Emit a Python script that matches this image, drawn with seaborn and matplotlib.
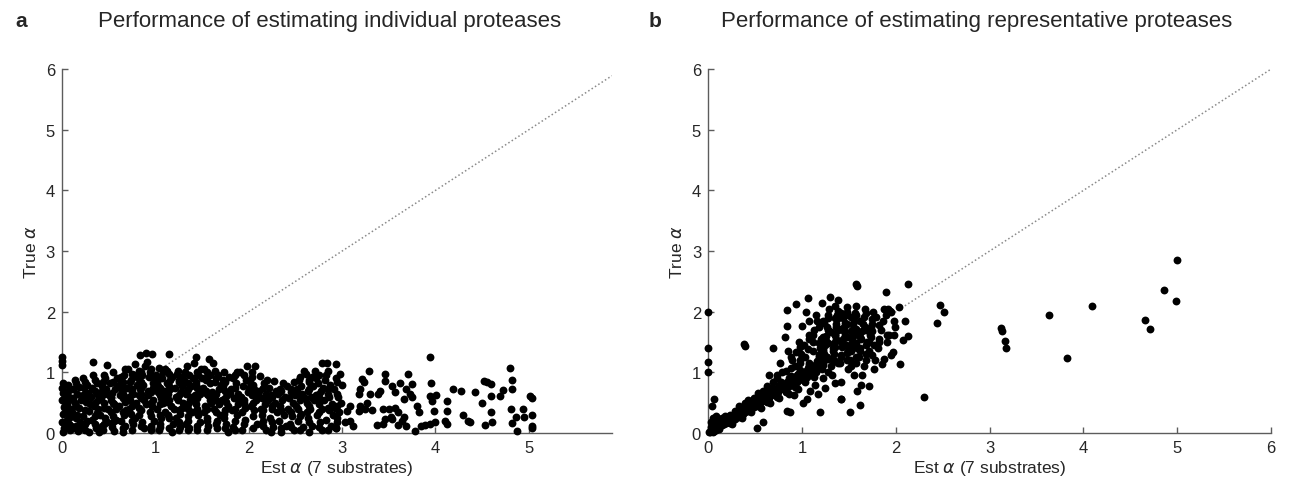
import matplotlib
matplotlib.use("Agg")
import matplotlib.pyplot as plt
import seaborn as sns
import pandas as pd

# panel a: individual proteases (grouped by x band)
est_a = [
    0.00, 0.00, 0.00, 0.01, 0.00, 0.01, 0.00, 0.02, 0.01, 0.00, 0.02, 0.01,
    0.04, 0.05, 0.06, 0.07, 0.08, 0.09, 0.05, 0.07, 0.10, 0.04, 0.06, 0.09, 0.08, 0.10,
    0.11, 0.12, 0.13, 0.14, 0.15, 0.16, 0.17, 0.18, 0.19, 0.12, 0.14, 0.16, 0.18, 0.20,
    0.21, 0.22, 0.23, 0.24, 0.25, 0.26, 0.27, 0.28, 0.29, 0.22, 0.25, 0.27, 0.29, 0.30,
    0.31, 0.32, 0.33, 0.34, 0.35, 0.36, 0.37, 0.38, 0.39, 0.33, 0.35, 0.37, 0.39, 0.40, 0.32,
    0.41, 0.42, 0.43, 0.44, 0.45, 0.46, 0.47, 0.48, 0.49, 0.42, 0.44, 0.46, 0.48, 0.50, 0.43,
    0.51, 0.52, 0.53, 0.54, 0.55, 0.56, 0.57, 0.58, 0.59, 0.52, 0.54, 0.56, 0.58, 0.60, 0.55,
    0.61, 0.62, 0.63, 0.64, 0.65, 0.66, 0.67, 0.68, 0.69, 0.62, 0.64, 0.66, 0.68, 0.70, 0.65, 0.63,
    0.71, 0.72, 0.73, 0.74, 0.75, 0.76, 0.77, 0.78, 0.79, 0.72, 0.74, 0.76, 0.78, 0.80, 0.75, 0.73,
    0.81, 0.82, 0.83, 0.84, 0.85, 0.86, 0.87, 0.88, 0.89, 0.82, 0.84, 0.86, 0.88, 0.90, 0.85, 0.83,
    0.90, 0.91, 0.92, 0.93, 0.94, 0.95, 0.96, 0.97, 0.98, 0.99, 0.92, 0.94, 0.96, 0.98, 1.00, 0.95,
    1.01, 1.02, 1.03, 1.04, 1.05, 1.06, 1.07, 1.08, 1.09, 1.02, 1.04, 1.06, 1.08, 1.10, 1.05, 1.03,
    1.10, 1.11, 1.12, 1.13, 1.14, 1.15, 1.16, 1.17, 1.18, 1.19, 1.12, 1.14, 1.16, 1.18, 1.20,
    1.21, 1.22, 1.23, 1.24, 1.25, 1.26, 1.27, 1.28, 1.29, 1.22, 1.24, 1.26, 1.28, 1.30, 1.25,
    1.31, 1.32, 1.33, 1.34, 1.35, 1.36, 1.37, 1.38, 1.39, 1.32, 1.34, 1.36, 1.38, 1.40, 1.35, 1.33,
    1.41, 1.42, 1.43, 1.44, 1.45, 1.46, 1.47, 1.48, 1.49, 1.42, 1.44, 1.46, 1.48, 1.50, 1.45, 1.43,
    1.51, 1.52, 1.53, 1.54, 1.55, 1.56, 1.57, 1.58, 1.59, 1.52, 1.54, 1.56, 1.58, 1.60, 1.55,
    1.61, 1.62, 1.63, 1.64, 1.65, 1.66, 1.67, 1.68, 1.69, 1.62, 1.64, 1.66, 1.68, 1.70,
    1.71, 1.72, 1.73, 1.74, 1.75, 1.76, 1.77, 1.78, 1.79, 1.72, 1.74, 1.76, 1.78, 1.80,
    1.81, 1.82, 1.83, 1.84, 1.85, 1.86, 1.87, 1.88, 1.89, 1.83, 1.85, 1.87, 1.90,
    1.91, 1.92, 1.93, 1.94, 1.95, 1.96, 1.97, 1.98, 1.99, 1.93, 1.96, 2.00,
    2.01, 2.02, 2.03, 2.04, 2.05, 2.06, 2.07, 2.08, 2.09, 2.03, 2.06, 2.10,
    2.11, 2.12, 2.13, 2.14, 2.15, 2.16, 2.17, 2.18, 2.19, 2.14, 2.20,
    2.21, 2.22, 2.23, 2.24, 2.25, 2.26, 2.27, 2.28, 2.29, 2.24, 2.30,
    2.31, 2.32, 2.33, 2.34, 2.35, 2.36, 2.37, 2.38, 2.39, 2.40,
    2.41, 2.42, 2.43, 2.44, 2.45, 2.46, 2.47, 2.48, 2.49, 2.50,
    2.51, 2.52, 2.53, 2.54, 2.55, 2.56, 2.57, 2.58, 2.59, 2.53, 2.56, 2.60,
    2.61, 2.62, 2.63, 2.64, 2.65, 2.66, 2.67, 2.68, 2.69, 2.62, 2.65, 2.68, 2.70,
    2.71, 2.72, 2.73, 2.74, 2.75, 2.76, 2.77, 2.78, 2.79, 2.72, 2.75, 2.78, 2.80,
    2.81, 2.82, 2.83, 2.84, 2.85, 2.86, 2.87, 2.88, 2.89, 2.83, 2.86, 2.90,
    2.91, 2.92, 2.93, 2.94, 2.95, 2.96, 2.97, 2.98, 2.99, 2.94, 3.00,
    # second pass through the dense block
    0.05, 0.05, 0.15, 0.15, 0.15, 0.25, 0.25, 0.25, 0.35, 0.35, 0.35,
    0.45, 0.45, 0.45, 0.45, 0.55, 0.55, 0.55, 0.65, 0.65, 0.65, 0.65,
    0.75, 0.75, 0.75, 0.75, 0.85, 0.85, 0.85, 0.85, 0.85, 0.95, 0.95, 0.95, 0.95, 0.95,
    1.05, 1.05, 1.05, 1.05, 1.05, 1.15, 1.15, 1.15, 1.15, 1.15, 1.25, 1.25, 1.25, 1.25,
    1.35, 1.35, 1.35, 1.35, 1.35, 1.45, 1.45, 1.45, 1.45, 1.45, 1.55, 1.55, 1.55, 1.55, 1.55,
    1.65, 1.65, 1.65, 1.65, 1.75, 1.75, 1.75, 1.75, 1.85, 1.85, 1.85, 1.95, 1.95, 1.95,
    2.05, 2.05, 2.05, 2.15, 2.15, 2.15, 2.25, 2.25, 2.25, 2.35, 2.35, 2.35, 2.45, 2.45, 2.45,
    2.55, 2.55, 2.55, 2.55, 2.65, 2.65, 2.65, 2.65, 2.75, 2.75, 2.75, 2.75, 2.75,
    2.85, 2.85, 2.85, 2.85, 2.95, 2.95, 2.95, 2.95,
    # sparse tail
    3.29, 3.21, 3.23, 3.46, 3.46, 3.71, 3.75, 3.94, 3.95, 3.62, 3.53, 3.57,
    3.41, 3.39, 3.30, 3.19, 3.18, 3.27, 3.69, 3.73, 3.75, 3.66, 3.94, 4.01,
    3.96, 4.12, 4.19, 4.27, 4.42, 4.52, 4.55, 4.50, 3.19, 3.25, 3.18, 3.32,
    3.44, 3.50, 3.57, 3.60, 3.53, 3.46, 3.37, 3.44, 3.52, 3.66, 3.64, 3.80,
    3.82, 3.69, 3.60, 3.78, 3.84, 3.89, 3.94, 4.00, 3.98, 4.12, 4.10, 4.12,
    4.30, 4.35, 3.09, 3.05, 3.03, 3.09, 3.12, 2.94,
    4.80, 4.82, 4.82, 4.59, 4.72, 4.69, 4.60, 5.01, 5.03, 4.81, 4.94, 4.59,
    4.86, 4.95, 5.03, 4.61, 4.53, 4.82, 5.03, 5.03, 4.87, 4.37,
]
true_a = [
    1.25, 1.18, 1.12, 0.83, 0.74, 0.66, 0.55, 0.43, 0.31, 0.19, 0.08, 0.02,
    0.62, 0.48, 0.33, 0.15, 0.71, 0.05, 0.22, 0.55, 0.40, 0.10, 0.80, 0.27, 0.60, 0.12,
    0.35, 0.72, 0.08, 0.50, 0.25, 0.64, 0.03, 0.42, 0.18, 0.58, 0.88, 0.30, 0.76, 0.55,
    0.10, 0.62, 0.28, 0.74, 0.05, 0.52, 0.20, 0.66, 0.36, 0.91, 0.15, 0.80, 0.02, 0.48,
    0.60, 0.22, 1.17, 0.45, 0.70, 0.08, 0.82, 0.33, 0.55, 0.95, 0.15, 0.65, 0.40, 0.02, 0.75,
    0.30, 0.68, 0.12, 0.85, 0.50, 0.25, 0.72, 1.12, 0.40, 0.58, 0.05, 0.90, 0.18, 0.62, 0.78,
    0.82, 0.35, 0.60, 0.10, 1.00, 0.48, 0.72, 0.22, 0.90, 0.55, 0.66, 0.03, 0.40, 0.78, 0.28,
    0.45, 0.88, 0.20, 0.70, 0.58, 0.95, 0.12, 1.05, 0.38, 0.62, 0.80, 0.30, 0.52, 0.74, 0.02, 0.92,
    1.05, 0.60, 0.85, 0.32, 0.72, 0.15, 0.95, 1.14, 0.50, 0.40, 0.88, 0.65, 0.25, 0.80, 0.05, 0.55,
    0.90, 0.42, 1.02, 1.28, 0.65, 0.18, 0.80, 0.55, 1.10, 0.30, 0.72, 0.95, 0.08, 0.48, 0.85, 0.62,
    1.32, 1.17, 0.70, 0.92, 0.35, 1.05, 1.30, 0.55, 0.82, 0.20, 0.62, 1.00, 0.45, 0.75, 0.88, 0.12,
    0.95, 0.40, 0.78, 1.08, 0.62, 0.25, 0.90, 0.50, 0.70, 0.85, 0.05, 0.58, 1.00, 0.35, 0.15, 0.68,
    1.05, 0.60, 0.82, 1.03, 0.30, 1.30, 0.72, 0.45, 0.92, 0.15, 0.52, 0.65, 0.88, 0.02, 0.40,
    0.75, 0.25, 0.98, 0.55, 0.85, 0.10, 0.68, 0.42, 0.92, 0.60, 1.02, 0.32, 0.78, 0.50, 0.05,
    0.88, 0.45, 0.65, 1.11, 0.20, 0.95, 0.55, 0.78, 0.35, 1.00, 0.70, 0.08, 0.60, 0.90, 0.40, 0.15,
    1.16, 0.62, 0.85, 1.25, 0.40, 0.95, 0.72, 0.18, 1.05, 0.52, 0.80, 0.30, 0.65, 0.90, 0.05, 0.48,
    0.75, 1.05, 0.45, 0.88, 0.25, 0.62, 1.22, 0.55, 0.95, 0.35, 0.70, 0.12, 0.82, 0.50, 1.00,
    0.68, 1.16, 0.40, 0.85, 0.55, 0.20, 0.95, 0.72, 0.30, 0.60, 1.02, 0.08, 0.48, 0.80,
    0.55, 0.88, 1.00, 0.32, 0.70, 0.15, 0.62, 0.45, 0.92, 0.78, 0.25, 0.52, 0.02, 0.66,
    0.72, 0.38, 0.90, 0.58, 0.20, 0.82, 1.00, 0.48, 0.65, 0.10, 0.95, 0.30, 0.55,
    1.00, 0.60, 0.35, 0.78, 0.50, 0.22, 0.88, 1.11, 0.68, 0.05, 0.42, 0.75,
    0.85, 0.45, 0.62, 1.00, 0.28, 0.72, 1.11, 0.55, 0.15, 0.92, 0.38, 0.65,
    0.70, 0.94, 0.40, 0.58, 0.20, 0.82, 0.48, 0.05, 0.65, 0.30, 0.88,
    0.55, 0.75, 0.25, 0.62, 0.40, 0.10, 0.86, 0.50, 0.70, 0.02, 0.35,
    0.65, 0.20, 0.45, 0.72, 0.08, 0.55, 0.83, 0.30, 0.60, 0.12,
    0.78, 0.40, 0.58, 0.15, 0.68, 0.28, 0.50, 0.85, 0.05, 0.62,
    0.45, 0.72, 0.20, 0.88, 0.55, 0.32, 0.65, 0.10, 1.03, 0.40, 0.78, 0.58,
    0.97, 0.50, 0.70, 0.25, 0.85, 0.40, 0.60, 0.12, 0.78, 0.35, 0.02, 0.92, 0.55,
    1.03, 0.62, 0.30, 0.82, 0.48, 0.18, 0.70, 1.16, 0.40, 0.90, 0.58, 0.05, 0.75,
    0.55, 0.88, 0.22, 1.15, 0.65, 0.38, 0.80, 0.12, 0.48, 0.95, 0.60, 0.30,
    0.72, 0.42, 0.90, 1.14, 0.18, 0.60, 0.35, 0.97, 0.50, 0.09, 0.80,
    # second pass through the dense block
    0.35, 0.68, 0.12, 0.45, 0.82, 0.38, 0.58, 0.85, 0.28, 0.50, 0.88,
    0.15, 0.42, 0.65, 0.95, 0.18, 0.50, 0.85, 0.08, 0.35, 0.65, 0.85,
    0.20, 0.45, 0.68, 0.98, 0.12, 0.38, 0.58, 0.75, 1.00, 0.05, 0.28, 0.50, 0.68, 0.95,
    0.10, 0.30, 0.48, 0.75, 0.92, 0.08, 0.25, 0.55, 0.78, 0.98, 0.18, 0.38, 0.62, 0.88,
    0.05, 0.28, 0.48, 0.72, 0.82, 0.12, 0.35, 0.58, 0.75, 1.00, 0.05, 0.20, 0.40, 0.65, 0.92,
    0.15, 0.35, 0.65, 0.90, 0.08, 0.38, 0.58, 0.85, 0.05, 0.40, 0.75, 0.15, 0.55, 0.95,
    0.08, 0.50, 0.80, 0.12, 0.38, 0.75, 0.18, 0.45, 0.60, 0.02, 0.38, 0.70, 0.10, 0.35, 0.72,
    0.05, 0.28, 0.62, 0.92, 0.18, 0.45, 0.72, 0.88, 0.10, 0.35, 0.52, 0.65, 0.95,
    0.05, 0.42, 0.72, 1.02, 0.25, 0.45, 0.65, 0.85,
    # sparse tail
    1.03, 0.89, 0.85, 0.98, 0.86, 0.97, 0.81, 1.26, 0.82, 0.83, 0.78, 0.68,
    0.70, 0.64, 0.64, 0.72, 0.64, 0.50, 0.72, 0.64, 0.59, 0.56, 0.61, 0.63,
    0.53, 0.53, 0.72, 0.70, 0.67, 0.86, 0.85, 0.50, 0.45, 0.40, 0.37, 0.38,
    0.40, 0.40, 0.42, 0.34, 0.23, 0.23, 0.13, 0.15, 0.26, 0.26, 0.20, 0.45,
    0.34, 0.12, 0.13, 0.04, 0.12, 0.13, 0.15, 0.18, 0.37, 0.37, 0.20, 0.15,
    0.29, 0.20, 0.45, 0.37, 0.18, 0.20, 0.12, 0.09,
    1.08, 0.88, 0.72, 0.81, 0.71, 0.61, 0.61, 0.61, 0.58, 0.40, 0.40, 0.34,
    0.27, 0.27, 0.30, 0.19, 0.14, 0.16, 0.12, 0.08, 0.04, 0.19,
]

# panel b: representative proteases
est_b = [
    0.00, 0.00, 0.00, 0.00, 0.04, 0.06, 0.05, 0.03, 0.08, 0.07,
    0.01, 0.02, 0.03, 0.04, 0.05, 0.06, 0.07, 0.08, 0.09, 0.10, 0.03, 0.05, 0.07, 0.09,
    0.11, 0.12, 0.13, 0.14, 0.15, 0.16, 0.17, 0.18, 0.19, 0.20, 0.12, 0.15, 0.18,
    0.21, 0.22, 0.23, 0.24, 0.25, 0.26, 0.27, 0.28, 0.29, 0.30, 0.23, 0.26, 0.29,
    0.31, 0.32, 0.33, 0.34, 0.35, 0.36, 0.37, 0.38, 0.39, 0.40, 0.33, 0.36, 0.39, 0.38, 0.39,
    0.41, 0.42, 0.43, 0.44, 0.45, 0.46, 0.47, 0.48, 0.49, 0.50, 0.43, 0.46, 0.49,
    0.51, 0.52, 0.53, 0.54, 0.55, 0.56, 0.57, 0.58, 0.59, 0.60, 0.53, 0.56, 0.59, 0.52, 0.59,
    0.61, 0.62, 0.63, 0.64, 0.65, 0.66, 0.67, 0.68, 0.69, 0.70, 0.63, 0.66, 0.69, 0.69, 0.65,
    0.71, 0.72, 0.73, 0.74, 0.75, 0.76, 0.77, 0.78, 0.79, 0.80, 0.73, 0.76, 0.79, 0.77, 0.74,
    0.81, 0.82, 0.83, 0.84, 0.85, 0.86, 0.87, 0.88, 0.89, 0.90, 0.83, 0.86, 0.89, 0.85, 0.87, 0.84,
    0.82, 0.84, 0.84,
    0.91, 0.92, 0.93, 0.94, 0.95, 0.96, 0.97, 0.98, 0.99, 1.00, 0.93, 0.96, 0.99, 0.97, 0.94,
    0.94, 0.92, 0.98,
    1.01, 1.02, 1.03, 1.04, 1.05, 1.06, 1.07, 1.08, 1.09, 1.10, 1.03, 1.05, 1.01, 1.00, 1.04,
    1.07, 1.02, 1.08, 1.06, 1.09,
    1.11, 1.12, 1.13, 1.14, 1.15, 1.16, 1.17, 1.18, 1.19, 1.20, 1.13, 1.16, 1.19, 1.14, 1.17,
    1.19, 1.12, 1.18, 1.21, 1.15,
    1.21, 1.22, 1.23, 1.24, 1.25, 1.26, 1.27, 1.28, 1.29, 1.23, 1.26, 1.29, 1.22, 1.25, 1.28,
    1.24, 1.30, 1.27,
    1.31, 1.32, 1.33, 1.34, 1.35, 1.36, 1.37, 1.38, 1.39, 1.33, 1.36, 1.39, 1.32, 1.35, 1.38,
    1.34, 1.37, 1.42, 1.31, 1.36,
    1.41, 1.42, 1.43, 1.44, 1.45, 1.46, 1.47, 1.48, 1.49, 1.43, 1.46, 1.49, 1.42, 1.45, 1.42,
    1.48, 1.44, 1.47,
    1.51, 1.52, 1.53, 1.54, 1.55, 1.56, 1.57, 1.58, 1.59, 1.53, 1.56, 1.59, 1.51, 1.55, 1.58,
    1.58, 1.59, 1.54,
    1.61, 1.62, 1.63, 1.64, 1.65, 1.66, 1.67, 1.68, 1.69, 1.63, 1.62, 1.66, 1.61, 1.67, 1.64,
    1.71, 1.72, 1.73, 1.74, 1.75, 1.76, 1.77, 1.78, 1.71, 1.74, 1.77, 1.79,
    1.81, 1.82, 1.84, 1.86, 1.87, 1.88, 1.85, 1.90, 1.90, 1.91,
    1.91, 1.93, 1.95, 1.94, 1.97, 1.95, 1.98, 1.92, 1.98, 1.99,
    2.04, 2.05, 2.08, 2.13, 2.13, 2.10,
    2.30, 2.44, 2.47, 2.51,
    3.12, 3.13, 3.16, 3.17, 3.63, 3.82, 4.09, 4.66, 4.71, 4.86, 5.00, 4.99,
    # second pass: diagonal core and upper cloud
    0.15, 0.25, 0.35, 0.45, 0.55, 0.65, 0.75, 0.85, 0.95, 0.95, 1.05, 1.05, 1.15, 1.15,
    1.22, 1.22, 1.22, 1.22, 1.28, 1.28, 1.28, 1.28, 1.35, 1.35, 1.35, 1.35, 1.35,
    1.42, 1.42, 1.42, 1.42, 1.48, 1.48, 1.48, 1.48, 1.52, 1.52, 1.52, 1.52,
    1.58, 1.58, 1.58, 1.58, 1.62, 1.62, 1.62, 1.68, 1.68, 1.68, 1.68, 1.75, 1.75, 1.75,
    1.82, 1.82, 1.12, 1.12, 1.18, 1.18, 1.08, 1.08, 1.08, 0.98, 0.98, 0.88, 0.88,
]
true_b = [
    1.99, 1.40, 1.17, 1.00, 0.45, 0.56, 0.25, 0.18, 0.28, 0.22,
    0.01, 0.02, 0.04, 0.03, 0.06, 0.04, 0.08, 0.05, 0.10, 0.08, 0.10, 0.02, 0.14, 0.20,
    0.10, 0.14, 0.12, 0.18, 0.13, 0.20, 0.15, 0.22, 0.17, 0.19, 0.06, 0.25, 0.28,
    0.18, 0.22, 0.16, 0.25, 0.20, 0.28, 0.22, 0.30, 0.24, 0.27, 0.30, 0.15, 0.36,
    0.28, 0.33, 0.26, 0.36, 0.30, 0.40, 0.32, 0.42, 0.35, 0.38, 0.45, 0.25, 0.50, 1.47, 1.44,
    0.38, 0.42, 0.36, 0.47, 0.40, 0.50, 0.44, 0.52, 0.43, 0.48, 0.55, 0.34, 0.58,
    0.46, 0.52, 0.44, 0.56, 0.50, 0.60, 0.53, 0.63, 0.55, 0.58, 0.66, 0.42, 0.70, 0.08, 0.18,
    0.55, 0.60, 0.52, 0.66, 0.58, 0.70, 0.62, 0.74, 0.64, 0.68, 0.78, 0.50, 0.85, 1.41, 0.95,
    0.63, 0.70, 0.60, 0.75, 0.68, 0.80, 0.72, 0.84, 0.74, 0.78, 0.90, 0.58, 1.00, 1.15, 0.95,
    0.72, 0.78, 0.68, 0.85, 0.76, 0.90, 0.80, 0.94, 0.83, 0.88, 1.02, 0.65, 1.20, 1.35, 0.34, 0.37,
    1.58, 1.77, 2.03,
    0.80, 0.86, 0.76, 0.93, 0.84, 0.98, 0.90, 1.04, 0.92, 0.96, 1.10, 0.72, 1.30, 1.50, 2.13,
    1.33, 0.62, 1.20,
    0.88, 0.95, 0.84, 1.02, 0.92, 1.08, 0.98, 1.12, 1.00, 1.05, 1.25, 0.56, 0.50, 1.77, 2.00,
    2.22, 1.45, 1.62, 1.38, 0.70,
    0.98, 1.05, 0.92, 1.12, 1.00, 1.18, 1.08, 1.25, 1.40, 1.55, 1.70, 1.85, 1.30, 0.80, 0.65,
    0.35, 1.62, 1.48, 2.15, 1.95,
    1.05, 1.12, 1.20, 1.30, 1.45, 1.60, 1.75, 1.90, 2.05, 1.38, 1.52, 1.68, 0.90, 0.75, 1.00,
    1.82, 2.24, 1.25,
    1.10, 1.22, 1.35, 1.48, 1.62, 1.75, 1.88, 2.02, 2.20, 1.40, 1.55, 1.70, 0.95, 0.82, 1.15,
    1.30, 1.95, 0.56, 1.66, 1.80,
    1.15, 1.28, 1.42, 1.55, 1.68, 1.82, 1.95, 2.08, 1.35, 1.50, 1.62, 1.05, 0.85, 1.75, 0.56,
    1.20, 1.90, 1.45,
    1.20, 1.35, 1.48, 1.60, 1.72, 1.85, 1.98, 2.10, 1.40, 1.55, 0.95, 0.70, 0.34, 1.65, 1.25,
    2.46, 2.43, 1.80,
    1.25, 1.40, 1.55, 1.68, 1.80, 1.92, 2.05, 1.30, 1.50, 0.80, 0.47, 1.10, 1.62, 1.75, 0.95,
    1.35, 1.50, 1.62, 1.75, 1.88, 2.00, 1.45, 1.20, 0.78, 1.58, 1.05, 1.92,
    1.40, 1.55, 1.70, 1.85, 2.04, 1.22, 1.14, 1.95, 2.33, 1.62,
    1.50, 1.62, 1.99, 2.01, 1.33, 1.28, 1.84, 2.05, 1.61, 1.75,
    2.07, 1.14, 1.54, 1.60, 2.46, 1.85,
    0.59, 1.81, 2.11, 2.00,
    1.74, 1.68, 1.51, 1.41, 1.95, 1.23, 2.10, 1.86, 1.71, 2.36, 2.85, 2.17,
    # second pass: diagonal core and upper cloud
    0.16, 0.23, 0.33, 0.43, 0.52, 0.62, 0.70, 0.80, 0.88, 0.95, 0.96, 1.00, 1.02, 1.10,
    1.15, 1.35, 1.58, 1.85, 1.22, 1.48, 1.70, 1.95, 1.18, 1.42, 1.62, 1.90, 2.10,
    1.25, 1.50, 1.72, 1.98, 1.32, 1.58, 1.80, 2.00, 1.10, 1.42, 1.68, 1.92,
    1.15, 1.48, 1.72, 1.95, 1.35, 1.58, 1.85, 1.20, 1.45, 1.70, 1.98, 1.28, 1.68, 1.80,
    1.50, 1.78, 1.35, 1.50, 1.28, 1.75, 1.15, 1.55, 1.85, 1.15, 1.42, 1.08, 1.25,
]

panels = [
    ("a", "Performance of estimating individual proteases", est_a, true_a, 5.89, [0, 1, 2, 3, 4, 5]),
    ("b", "Performance of estimating representative proteases", est_b, true_b, 6.0, [0, 1, 2, 3, 4, 5, 6]),
]

sns.set_style("ticks")
plt.rcParams['font.family'] = ['Liberation Sans', 'DejaVu Sans']
plt.rcParams['mathtext.fontset'] = 'dejavusans'

fig = plt.figure(figsize=(12.89, 4.85), dpi=100)
axes = [fig.add_axes([0.0481, 0.105, 0.4266, 0.7505]),
        fig.add_axes([0.5493, 0.105, 0.4368, 0.7505])]
letter_x = [0.012, 0.503]
title_x = [0.256, 0.758]

axis_col = '#5c5c5c'
text_col = '#262626'

for ax, (letter, title, xs, ys, xmax, xticks), lx, tx in zip(axes, panels, letter_x, title_x):
    df = pd.DataFrame({'est': xs, 'true': ys})
    ax.axline((0, 0), slope=1, color='#8a8a8a', linestyle=(0, (1, 1.6)), linewidth=1.1, zorder=1)
    sns.scatterplot(data=df, x='est', y='true', ax=ax, color='black', s=32,
                    linewidth=0, zorder=3, clip_on=False)
    ax.set_xlim(0, xmax)
    ax.set_ylim(0, 6)
    ax.set_xticks(xticks)
    ax.set_yticks([0, 1, 2, 3, 4, 5, 6])
    ax.set_xlabel(r'Est $\alpha$ (7 substrates)', fontsize=12.5, color=text_col, labelpad=2)
    ax.set_ylabel(r'True $\alpha$', fontsize=12.5, color=text_col, labelpad=5)
    ax.tick_params(direction='in', length=4, width=1, color=axis_col,
                   labelsize=12, labelcolor=text_col, pad=5)
    for side in ['top', 'right']:
        ax.spines[side].set_visible(False)
    for side in ['left', 'bottom']:
        ax.spines[side].set_color(axis_col)
        ax.spines[side].set_linewidth(1)
    fig.text(lx, 0.955, letter, fontsize=15, fontweight='bold', ha='left', va='center')
    fig.text(tx, 0.955, title, fontsize=16, ha='center', va='center')

fig.savefig('out.png', dpi=100)
